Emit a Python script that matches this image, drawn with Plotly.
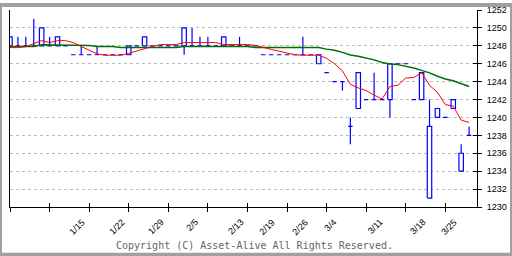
import plotly.graph_objects as go

# ---------------- data ----------------
days = list(range(59))
open_ = [1248, 1248, 1248, 1248, 1248, 1248, 1248, 1248, 1247, 1247,
         1247, 1247, 1247, 1247, 1247, 1247, 1248, 1249, 1248, 1248,
         1248, 1248, 1248, 1248, 1248, 1248, 1248, 1248, 1248, 1248,
         1248, 1248, 1247, 1247, 1247, 1247, 1247, 1247, 1247, 1247,
         1245, 1244, 1244, 1239, 1245, 1242, 1242, 1242, 1242, 1246,
         1246, 1242, 1245, 1239, 1241, 1240, 1241, 1236, 1238]
high = [1249, 1249, 1249, 1251, 1250, 1249, 1249, 1248, 1247, 1248,
        1247, 1248, 1247, 1247, 1247, 1248, 1248, 1249, 1248, 1248,
        1248, 1248, 1250, 1250, 1249, 1249, 1248, 1249, 1248, 1249,
        1248, 1248, 1247, 1247, 1247, 1247, 1247, 1249, 1247, 1247,
        1245, 1244, 1244, 1240, 1245, 1242, 1245, 1242, 1246, 1246,
        1246, 1242, 1245, 1242, 1241, 1240, 1242, 1237, 1239]
low = [1248, 1248, 1248, 1248, 1248, 1248, 1248, 1248, 1247, 1247,
       1247, 1247, 1247, 1247, 1247, 1247, 1248, 1248, 1248, 1248,
       1248, 1248, 1247, 1248, 1248, 1248, 1248, 1248, 1248, 1248,
       1248, 1248, 1247, 1247, 1247, 1247, 1247, 1247, 1247, 1246,
       1245, 1244, 1243, 1237, 1241, 1242, 1242, 1242, 1240, 1246,
       1246, 1242, 1242, 1231, 1240, 1240, 1241, 1234, 1238]
close = [1249, 1248, 1248, 1248, 1250, 1248, 1249, 1248, 1247, 1247,
         1247, 1247, 1247, 1247, 1247, 1248, 1248, 1248, 1248, 1248,
         1248, 1248, 1250, 1248, 1248, 1248, 1248, 1249, 1248, 1248,
         1248, 1248, 1247, 1247, 1247, 1247, 1247, 1247, 1247, 1246,
         1245, 1244, 1244, 1239, 1241, 1242, 1242, 1242, 1246, 1246,
         1246, 1242, 1242, 1231, 1240, 1240, 1242, 1234, 1238]
ma_short = [1247.8, 1247.8, 1247.9, 1248.2, 1248.58, 1248.36, 1248.58, 1248.58, 1248.36, 1247.93,
            1247.5, 1247.1, 1246.95, 1246.95, 1246.95, 1247.16, 1247.38, 1247.67, 1247.93, 1248.14,
            1248.14, 1248.14, 1248.36, 1248.36, 1248.36, 1248.36, 1248.36, 1248.14, 1248.14, 1248.14,
            1248.14, 1248.05, 1247.8, 1247.6, 1247.4, 1247.2, 1247.0, 1246.95, 1246.95, 1246.95,
            1246.6, 1246.0, 1245.2, 1243.7, 1243.3, 1243.0, 1242.5, 1242.06, 1243.45, 1243.6,
            1244.4, 1244.46, 1245.0, 1243.6, 1242.8, 1241.44, 1241.26, 1239.7, 1239.44]
ma_long = [1247.93, 1247.93, 1247.93, 1247.93, 1248.12, 1248.12, 1248.12, 1248.12, 1248.12, 1248.04,
           1248.04, 1247.93, 1247.93, 1247.93, 1247.82, 1247.82, 1247.75, 1247.75, 1247.75, 1247.82,
           1247.82, 1247.82, 1247.93, 1247.93, 1247.93, 1247.93, 1247.93, 1247.93, 1247.93, 1247.93,
           1247.93, 1247.82, 1247.82, 1247.82, 1247.82, 1247.82, 1247.82, 1247.82, 1247.82, 1247.82,
           1247.63, 1247.5, 1247.27, 1246.97, 1246.83, 1246.65, 1246.43, 1246.14, 1245.96, 1245.9,
           1245.74, 1245.52, 1245.26, 1244.98, 1244.6, 1244.3, 1244.1, 1243.78, 1243.45]
tick_days = [0, 5, 10, 15, 20, 25, 30, 35, 40, 45, 50, 55]
label_text = ["1/15", "1/22", "1/29", "2/5", "2/13", "2/19", "2/26", "3/4", "3/11", "3/18", "3/25"]
label_days = [10.1, 15.1, 20.0, 24.4, 30.1, 34.1, 38.3, 41.9, 47.8, 53.1, 57.1]
y_ticks = list(range(1230, 1253, 2))
copyright_text = "Copyright (C) Asset-Alive All Rights Reserved."

# ---------------- style ----------------
W_FIG, H_FIG = 512, 256
ML, MR, MT, MB = 10, 35, 5, 49
PW, PH = W_FIG - ML - MR, H_FIG - MT - MB
BLUE = "#0000ff"
half_w = 0.28
x_range = [0, 59]
y_range = [1230, 1252]

# candle geometry from data
wx, wy = [], []
for d, h, l in zip(days, high, low):
    if h > l:
        wx += [d, d, None]
        wy += [l, h, None]
bx, by = [], []
for d, o, c in zip(days, open_, close):
    lo, hi = min(o, c), max(o, c)
    bx += [d - half_w, d + half_w, d + half_w, d - half_w, d - half_w, None]
    by += [lo, lo, hi, hi, lo, None]

fig = go.Figure()
fig.add_trace(go.Scatter(x=wx, y=wy, mode="lines", line=dict(color=BLUE, width=1.2),
                         hoverinfo="skip", showlegend=False))
fig.add_trace(go.Scatter(x=bx, y=by, mode="lines", fill="toself", fillcolor="white",
                         line=dict(color=BLUE, width=1.2), hoverinfo="skip", showlegend=False))
fig.add_trace(go.Scatter(x=days, y=ma_long, mode="lines", line=dict(color="#007000", width=1.5),
                         showlegend=False))
fig.add_trace(go.Scatter(x=days, y=ma_short, mode="lines", line=dict(color="#ff0000", width=1),
                         showlegend=False))
# invisible trace to realise the overlay axes used for crossing ticks
fig.add_trace(go.Scatter(x=[x_range[0]], y=[y_range[0]], xaxis="x2", yaxis="y2", mode="markers",
                         marker=dict(opacity=0), hoverinfo="skip", showlegend=False))

for t, d in zip(label_text, label_days):
    fig.add_annotation(x=d, y=0, xref="x", yref="paper", text=t, showarrow=False,
                       textangle=-45, xanchor="right", yanchor="top", yshift=-7,
                       font=dict(family="Liberation Sans", size=9, color="black"))

fig.add_annotation(x=(255 - ML) / PW, y=-(246 - (MT + PH)) / PH, xref="paper", yref="paper",
                   text=copyright_text, showarrow=False, xanchor="center", yanchor="middle",
                   font=dict(family="DejaVu Sans Mono", size=10, color="#666666"))

fig.add_shape(type="rect", xref="paper", yref="paper",
              x0=-ML / PW, x1=1 + MR / PW, y0=-MB / PH, y1=1 + MT / PH,
              line=dict(color="#a0a0a0", width=4))

axis_common = dict(showgrid=False, zeroline=False, fixedrange=True)
fig.update_layout(
    width=W_FIG, height=H_FIG,
    margin=dict(l=ML, r=MR, t=MT, b=MB, pad=0),
    paper_bgcolor="white", plot_bgcolor="white",
    xaxis=dict(range=x_range, tickvals=tick_days, ticks="outside", ticklen=4, tickwidth=1,
               tickcolor="black", showticklabels=False, showline=True, linecolor="black",
               linewidth=1, **axis_common),
    xaxis2=dict(range=x_range, tickvals=tick_days, ticks="inside", ticklen=4, tickwidth=1,
                tickcolor="black", showticklabels=False, showline=False, overlaying="x",
                anchor="y2", side="bottom", **axis_common),
    yaxis=dict(range=y_range, tickvals=y_ticks, side="right", ticks="outside", ticklen=4,
               tickwidth=1, tickcolor="black", showline=True, linecolor="black", linewidth=1,
               mirror=True, showgrid=True, gridcolor="#bbbbbb", griddash="3px,3px",
               gridwidth=1, zeroline=False, fixedrange=True, ticklabelstandoff=3,
               tickfont=dict(family="Liberation Sans", size=9, color="black")),
    yaxis2=dict(range=y_range, tickvals=y_ticks, side="right", ticks="inside", ticklen=4,
                tickwidth=1, tickcolor="black", showticklabels=False, showline=False,
                overlaying="y", anchor="x2", **axis_common),
)

fig.write_html("out.html")
